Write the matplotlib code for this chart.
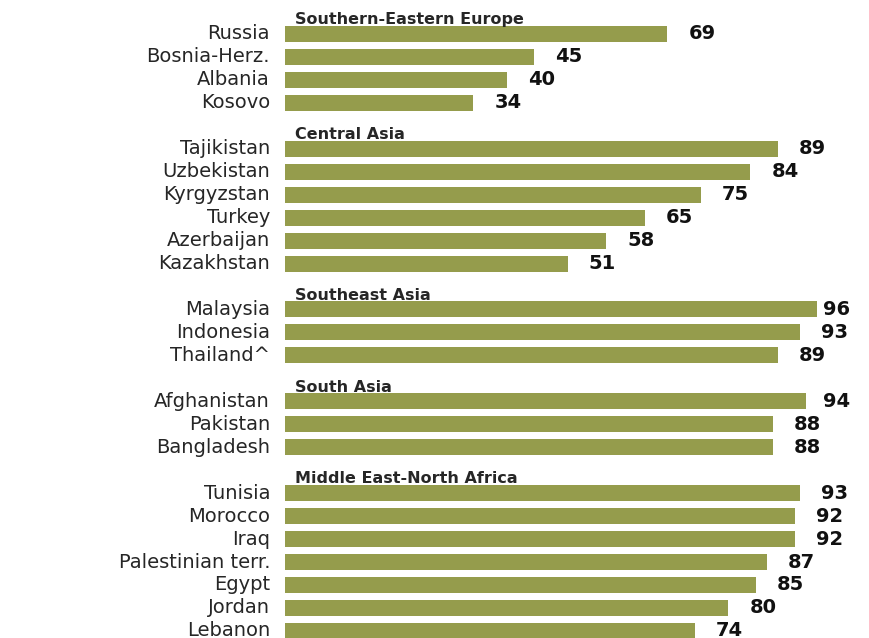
import matplotlib
matplotlib.use("Agg")
import matplotlib.pyplot as plt

# --- Data, grouped by region ---
regions = [
    "Southern-Eastern Europe",
    "Central Asia",
    "Southeast Asia",
    "South Asia",
    "Middle East-North Africa",
]
see_countries = ["Russia", "Bosnia-Herz.", "Albania", "Kosovo"]
see_values = [69, 45, 40, 34]
ca_countries = ["Tajikistan", "Uzbekistan", "Kyrgyzstan", "Turkey", "Azerbaijan", "Kazakhstan"]
ca_values = [89, 84, 75, 65, 58, 51]
sea_countries = ["Malaysia", "Indonesia", "Thailand^"]
sea_values = [96, 93, 89]
sa_countries = ["Afghanistan", "Pakistan", "Bangladesh"]
sa_values = [94, 88, 88]
mena_countries = ["Tunisia", "Morocco", "Iraq", "Palestinian terr.", "Egypt", "Jordan", "Lebanon"]
mena_values = [93, 92, 92, 87, 85, 80, 74]

groups = [
    (regions[0], see_countries, see_values),
    (regions[1], ca_countries, ca_values),
    (regions[2], sea_countries, sea_values),
    (regions[3], sa_countries, sa_values),
    (regions[4], mena_countries, mena_values),
]

bar_color = "#959c4c"
text_color = "#262626"

# --- Figure: axes fill the canvas, bars start at ~x=285px ---
W, H = 8.7, 6.38
fig = plt.figure(figsize=(W, H), dpi=100)
ax = fig.add_axes([285 / 870, 0, 585 / 870, 1])
px_per_unit = 5.54
ax.set_xlim(0, 585 / px_per_unit)
# one slot per row, headers take a slot each; Lebanon is cut at the bottom
ax.set_ylim(27.31, -0.479)
ax.axis("off")

slot = 0
for name, countries, values in groups:
    first = slot + 1
    ax.text(1.8, first - 0.42, name, ha="left", va="baseline",
            fontsize=11.5, fontweight="bold", color=text_color)
    slot += 1
    for c, v in zip(countries, values):
        ax.barh(slot, v, height=0.7, color=bar_color, edgecolor="none")
        ax.text(-2.7, slot, c, ha="right", va="center", fontsize=14,
                color=text_color, clip_on=False)
        # value label sits right of the bar, kept inside the canvas
        ax.text(min(v + 3.8, 97.1), slot, str(v), ha="left", va="center",
                fontsize=14, fontweight="bold", color="#111111")
        slot += 1

fig.savefig("out.png", dpi=100, facecolor="white")
